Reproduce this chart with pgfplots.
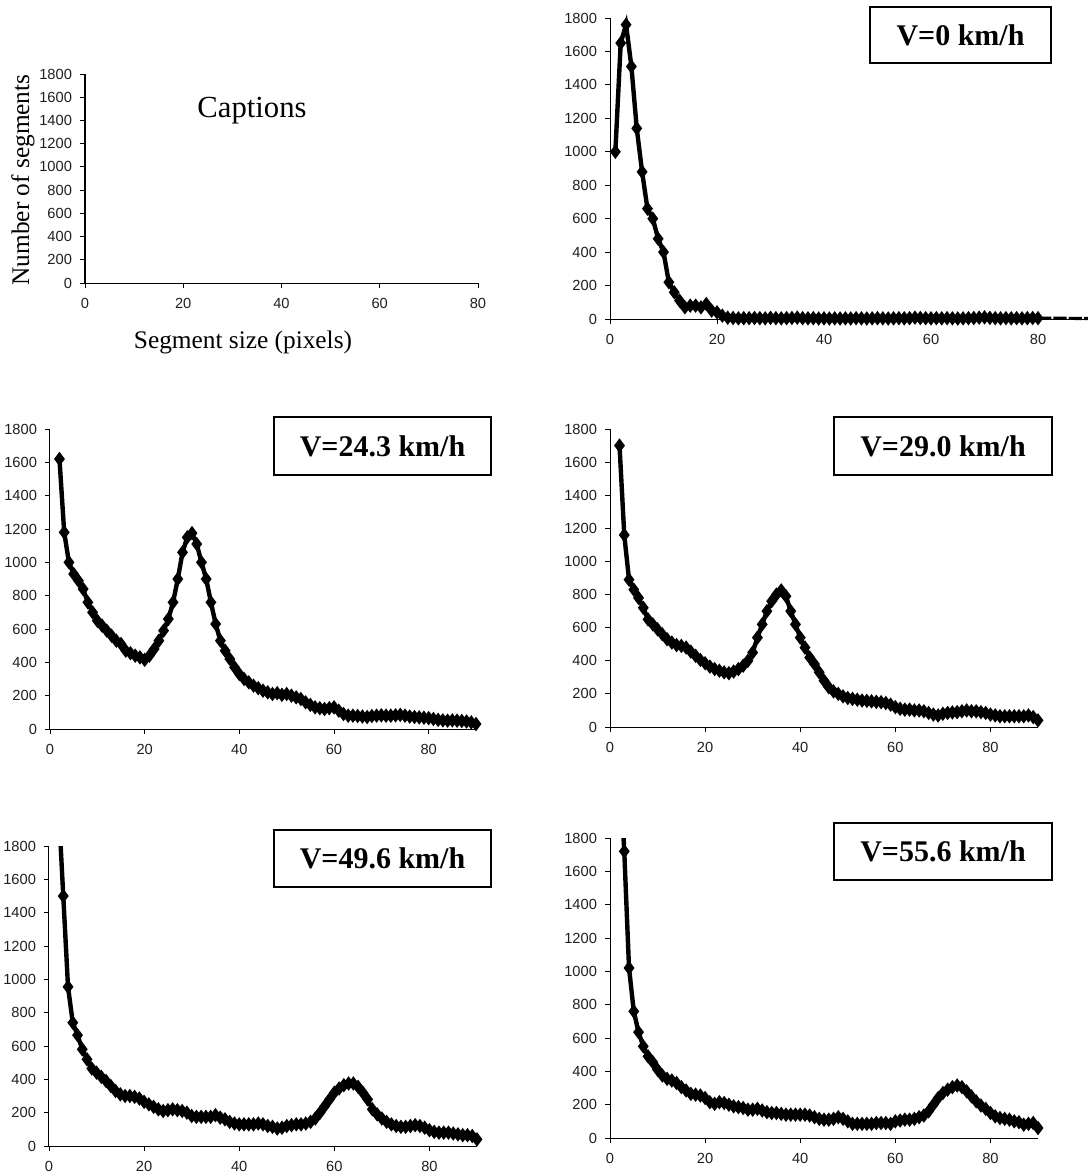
\documentclass[border=0pt]{standalone}
\usepackage{fontspec}
\setmainfont{Liberation Serif}
\setsansfont{Liberation Sans}
\usepackage{pgfplots}
\pgfplotsset{compat=1.18}

\pgfplotsset{
  panel/.style={
    scale only axis, anchor=south west,
    axis x line*=bottom, axis y line*=left,
    xmin=0, xmax=90, ymin=0, ymax=1800,
    enlargelimits=false,
    xtick={0,20,40,60,80}, ytick={0,200,...,1800},
    tick align=outside, major tick length=3.75pt,
    tick style={black, line width=0.6pt},
    axis line style={black, line width=0.75pt},
    tick label style={font=\sffamily\fontsize{11}{12}\selectfont, text=black!88},
    xticklabel style={yshift=-4.5pt},
    yticklabel style={xshift=-2.5pt},
    /pgf/number format/assume math mode=true,
    /pgf/number format/1000 sep={},
  },
  curve/.style={black, line width=3.3pt, mark=diamond*, mark size=2.7pt, mark options={solid}},
}

\begin{document}
\begin{tikzpicture}
\useasboundingbox (0,0) rectangle (1088*0.75pt,-1175*0.75pt);

% ---------- Panel 1: captions ----------
\begin{axis}[panel, at={(85*0.75pt,-283*0.75pt)}, width=393*0.75pt, height=209*0.75pt, xmax=80]
\end{axis}
\node[anchor=base, font=\fontsize{23}{25}\selectfont] at (252*0.75pt,-117*0.75pt) {Captions};
\node[anchor=base, font=\fontsize{19}{21}\selectfont] at (243*0.75pt,-348*0.75pt) {Segment size (pixels)};
\node[anchor=base, rotate=90, font=\fontsize{19}{21}\selectfont] at (29*0.75pt,-180*0.75pt) {Number of segments};

% ---------- Panel 2: V=0 ----------
\begin{axis}[panel, at={(610*0.75pt,-319*0.75pt)}, width=481.5*0.75pt, height=301*0.75pt, clip=false]
\addplot[curve] coordinates {
(1,1000)(2,1650)(3,1760)(4,1510)(5,1140)(6,880)(7,660)(8,600)(9,480)(10,400)
(11,220)(12,160)(13,110)(14,70)(15,80)(16,80)(17,70)(18,90)(19,50)(20,40)
(21,20)(22,8)(23,6)(24,4)(25,5)(26,5)(27,6)(28,5)(29,4)(30,7)
(31,5)(32,4)(33,5)(34,6)(35,8)(36,5)(37,4)(38,5)(39,3)(40,4)
(41,3)(42,4)(43,3)(44,4)(45,3)(46,5)(47,4)(48,3)(49,4)(50,5)
(51,4)(52,3)(53,4)(54,5)(55,4)(56,5)(57,8)(58,6)(59,5)(60,4)
(61,5)(62,4)(63,5)(64,4)(65,3)(66,4)(67,5)(68,6)(69,8)(70,10)
(71,7)(72,5)(73,4)(74,5)(75,4)(76,5)(77,4)(78,5)(79,6)(80,5)
};
\addplot[black, line width=2.4pt, dash pattern=on 10pt off 1.5pt] coordinates {(80,5)(85,4)(90,3)};
\end{axis}
\draw[line width=0.9pt] (870*0.75pt,-7*0.75pt) rectangle (1051*0.75pt,-63*0.75pt);
\node[font=\bfseries\fontsize{22.5}{24}\selectfont] at (960.5*0.75pt,-35*0.75pt) {V=0 km/h};

% ---------- Panel 3: V=24.3 ----------
\begin{axis}[panel, at={(50*0.75pt,-729*0.75pt)}, width=426*0.75pt, height=300*0.75pt, clip=false]
\addplot[curve] coordinates {
(2,1620)(3,1180)(4,1000)(5,930)(6,890)(7,840)(8,760)(9,700)(10,650)
(11,620)(12,590)(13,560)(14,530)(15,510)(16,470)(17,455)(18,440)(19,430)(20,415)
(21,440)(22,480)(23,530)(24,590)(25,660)(26,760)(27,900)(28,1060)(29,1150)(30,1175)
(31,1110)(32,1000)(33,900)(34,760)(35,630)(36,530)(37,470)(38,420)(39,370)(40,330)
(41,300)(42,280)(43,260)(44,245)(45,230)(46,220)(47,210)(48,215)(49,205)(50,210)
(51,200)(52,190)(53,180)(54,160)(55,145)(56,130)(57,125)(58,120)(59,125)(60,130)
(61,110)(62,90)(63,80)(64,80)(65,78)(66,75)(67,72)(68,78)(69,80)(70,82)
(71,80)(72,80)(73,82)(74,85)(75,80)(76,75)(77,72)(78,70)(79,68)(80,65)
(81,60)(82,55)(83,52)(84,50)(85,52)(86,50)(87,48)(88,45)(89,40)(90,30)
};
\end{axis}
\draw[line width=0.9pt] (274*0.75pt,-417*0.75pt) rectangle (491*0.75pt,-475*0.75pt);
\node[font=\bfseries\fontsize{22.5}{24}\selectfont] at (382.5*0.75pt,-446*0.75pt) {V=24.3 km/h};

% ---------- Panel 4: V=29.0 ----------
\begin{axis}[panel, at={(610*0.75pt,-727*0.75pt)}, width=428*0.75pt, height=298*0.75pt, clip=false]
\addplot[curve] coordinates {
(2,1700)(3,1160)(4,890)(5,830)(6,780)(7,720)(8,650)(9,620)(10,590)
(11,560)(12,530)(13,510)(14,495)(15,490)(16,480)(17,455)(18,430)(19,405)(20,385)
(21,365)(22,350)(23,340)(24,330)(25,325)(26,335)(27,350)(28,370)(29,400)(30,450)
(31,540)(32,620)(33,700)(34,760)(35,800)(36,825)(37,790)(38,700)(39,620)(40,540)
(41,480)(42,420)(43,380)(44,330)(45,280)(46,240)(47,215)(48,200)(49,185)(50,175)
(51,170)(52,165)(53,160)(54,158)(55,155)(56,152)(57,150)(58,145)(59,135)(60,120)
(61,110)(62,105)(63,105)(64,100)(65,100)(66,95)(67,85)(68,75)(69,70)(70,80)
(71,85)(72,88)(73,90)(74,95)(75,100)(76,95)(77,95)(78,90)(79,85)(80,75)
(81,70)(82,65)(83,65)(84,65)(85,65)(86,65)(87,65)(88,70)(89,60)(90,40)
};
\end{axis}
\draw[line width=0.9pt] (834*0.75pt,-417*0.75pt) rectangle (1052*0.75pt,-475*0.75pt);
\node[font=\bfseries\fontsize{22.5}{24}\selectfont] at (943*0.75pt,-446*0.75pt) {V=29.0 km/h};

% ---------- Panel 5: V=49.6 ----------
\begin{axis}[panel, at={(49*0.75pt,-1146*0.75pt)}, width=428*0.75pt, height=300*0.75pt]
\addplot[curve] coordinates {
(2,2050)(3,1500)(4,955)(5,740)(6,665)(7,580)(8,520)(9,465)(10,440)
(11,415)(12,390)(13,360)(14,330)(15,310)(16,300)(17,300)(18,295)(19,285)(20,265)
(21,250)(22,235)(23,220)(24,210)(25,215)(26,220)(27,215)(28,210)(29,200)(30,180)
(31,175)(32,175)(33,175)(34,175)(35,185)(36,170)(37,160)(38,145)(39,135)(40,130)
(41,130)(42,130)(43,130)(44,135)(45,130)(46,120)(47,115)(48,105)(49,110)(50,120)
(51,125)(52,130)(53,130)(54,135)(55,145)(56,165)(57,200)(58,240)(59,280)(60,320)
(61,345)(62,365)(63,375)(64,375)(65,355)(66,320)(67,280)(68,220)(69,190)(70,165)
(71,145)(72,130)(73,120)(74,115)(75,115)(76,120)(77,125)(78,120)(79,110)(80,95)
(81,85)(82,80)(83,80)(84,80)(85,75)(86,70)(87,65)(88,65)(89,60)(90,40)
};
\end{axis}
\draw[line width=0.9pt] (274*0.75pt,-830*0.75pt) rectangle (491*0.75pt,-887*0.75pt);
\node[font=\bfseries\fontsize{22.5}{24}\selectfont] at (382.5*0.75pt,-858.5*0.75pt) {V=49.6 km/h};

% ---------- Panel 6: V=55.6 ----------
\begin{axis}[panel, at={(610*0.75pt,-1138*0.75pt)}, width=428*0.75pt, height=300*0.75pt]
\addplot[curve] coordinates {
(2,2250)(3,1720)(4,1020)(5,760)(6,635)(7,550)(8,490)(9,455)(10,410)
(11,375)(12,355)(13,345)(14,330)(15,305)(16,285)(17,265)(18,260)(19,255)(20,240)
(21,215)(22,205)(23,215)(24,210)(25,200)(26,190)(27,185)(28,180)(29,170)(30,170)
(31,175)(32,165)(33,155)(34,150)(35,150)(36,145)(37,140)(38,140)(39,140)(40,140)
(41,140)(42,135)(43,125)(44,115)(45,110)(46,110)(47,115)(48,125)(49,115)(50,100)
(51,85)(52,85)(53,85)(54,85)(55,85)(56,90)(57,90)(58,90)(59,85)(60,100)
(61,105)(62,110)(63,110)(64,115)(65,125)(66,135)(67,160)(68,200)(69,240)(70,270)
(71,290)(72,305)(73,315)(74,305)(75,280)(76,250)(77,220)(78,195)(79,175)(80,150)
(81,130)(82,120)(83,115)(84,110)(85,100)(86,95)(87,80)(88,85)(89,90)(90,60)
};
\end{axis}
\draw[line width=0.9pt] (834*0.75pt,-823*0.75pt) rectangle (1052*0.75pt,-880*0.75pt);
\node[font=\bfseries\fontsize{22.5}{24}\selectfont] at (943*0.75pt,-851.5*0.75pt) {V=55.6 km/h};
\end{tikzpicture}
\end{document}
